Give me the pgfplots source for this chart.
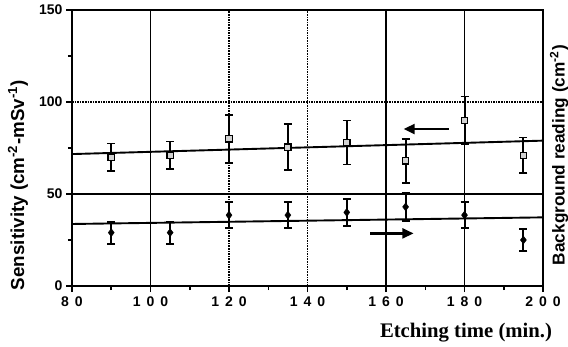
\documentclass[border=0pt]{standalone}
\usepackage{fontspec}
\setmainfont{Liberation Sans}
\newfontfamily\serifb{Liberation Serif}
\usepackage{graphicx}
\usepackage{pgfplots}
\pgfplotsset{compat=1.18}
\usetikzlibrary{arrows.meta}
\newcommand{\dsp}{\kern6pt}
\begin{document}
\begin{tikzpicture}[x=1pt,y=1pt]
\useasboundingbox (-72,-60) rectangle (496,286);
\begin{axis}[
  at={(0,0)}, anchor=south west,
  scale only axis, width=471pt, height=276pt,
  xmin=80, xmax=200, ymin=0, ymax=150,
  xtick={80,100,120,140,160,180,200},
  xticklabels={8\dsp0,1\dsp0\dsp0,1\dsp2\dsp0,1\dsp4\dsp0,1\dsp6\dsp0,1\dsp8\dsp0,2\dsp0\dsp0},
  ytick={0,50,100,150},
  minor x tick num=1, minor y tick num=1,
  xtick pos=bottom, ytick pos=left,
  tick align=outside,
  major tick length=6pt, minor tick length=4pt,
  axis line style={line width=2pt},
  tick style={line width=1.5pt, black},
  yticklabel style={font=\bfseries\fontsize{14}{14}\selectfont, xshift=0pt},
  xticklabel style={font=\bfseries\fontsize{14}{14}\selectfont, yshift=-1pt},
  /pgf/number format/assume math mode=true,
  clip=false,
]
% grid lines
\draw[line width=1.3pt] (axis cs:100,0) -- (axis cs:100,150);
\draw[line width=1.6pt, densely dotted] (axis cs:120,0) -- (axis cs:120,150);
\draw[line width=1.6pt, densely dotted] (axis cs:140,0) -- (axis cs:140,150);
\draw[line width=1.3pt] (axis cs:160,0) -- (axis cs:160,150);
\draw[line width=1.3pt] (axis cs:180,0) -- (axis cs:180,150);
\draw[line width=1.6pt, densely dotted] (axis cs:80,100) -- (axis cs:200,100);
\draw[line width=1.4pt] (axis cs:80,50) -- (axis cs:200,50);

% fit lines
\addplot[black, line width=1.9pt] coordinates {(80,71.7) (200,79)};
\addplot[black, line width=1.9pt] coordinates {(80,33.7) (200,37.3)};

% sensitivity (squares)
\addplot[only marks, mark=square*, mark size=3.2pt,
  mark options={fill=gray!35, draw=black, line width=1.3pt},
  error bars/.cd, y dir=both, y explicit,
  error bar style={line width=2pt, black},
  error mark options={rotate=90, mark size=4pt, line width=1.8pt, black}]
coordinates {
 (90,70) +- (0,7.5)
 (105,71) +- (0,7.5)
 (120,80) +- (0,13)
 (135,75.5) +- (0,12.5)
 (150,78) +- (0,12)
 (165,68) +- (0,12)
 (180,90) +- (0,13)
 (195,71) +- (0,9.7)
};

% background (diamonds)
\addplot[only marks, mark=diamond*, mark size=4pt,
  mark options={fill=black, draw=black},
  error bars/.cd, y dir=both, y explicit,
  error bar style={line width=2pt, black},
  error mark options={rotate=90, mark size=4pt, line width=1.8pt, black}]
coordinates {
 (90,29) +- (0,6)
 (105,29) +- (0,6)
 (120,38.5) +- (0,7)
 (135,38.5) +- (0,7)
 (150,40) +- (0,7.5)
 (165,43) +- (0,7.5)
 (180,38.5) +- (0,7)
 (195,25) +- (0,6)
};

% arrows
\draw[line width=2.4pt, -{Triangle[length=11pt,width=10pt]}] (axis cs:176,85.3) -- (axis cs:164.5,85.3);
\draw[line width=2.4pt, -{Triangle[length=11pt,width=10pt]}] (axis cs:156,28.6) -- (axis cs:167,28.6);
\end{axis}
\node[rotate=90] at (-54,101) {\resizebox{210pt}{!}{\bfseries Sensitivity (cm\textsuperscript{-2}-mSv\textsuperscript{-1})}};
\node[rotate=90] at (487,131) {\resizebox{220pt}{!}{\bfseries Background reading (cm\textsuperscript{-2})}};
\node at (394,-47) {\resizebox{172pt}{!}{\serifb\bfseries Etching time (min.)}};
\end{tikzpicture}
\end{document}
